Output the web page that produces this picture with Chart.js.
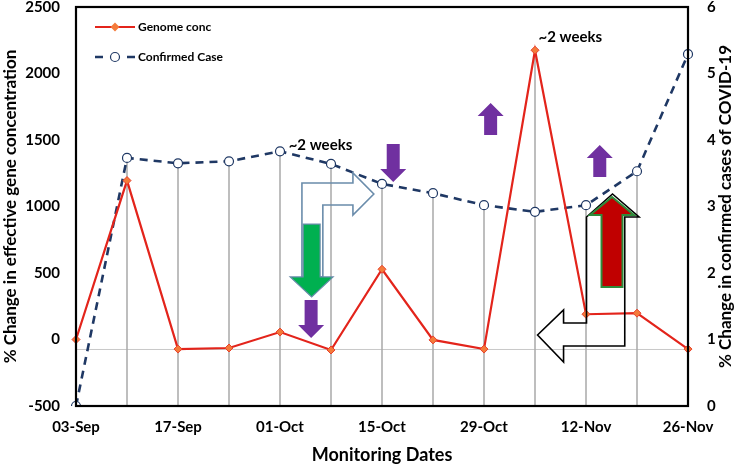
<!DOCTYPE html>
<html lang="en">
<head>
<meta charset="UTF-8" />
<title>Genome conc vs Confirmed Case</title>
<script src="https://cdn.jsdelivr.net/npm/chart.js"></script>
<style>
  html, body { margin: 0; padding: 0; background: #fff; }
</style>
</head>
<body>
<canvas id="chart" width="735" height="466"></canvas>
<script>
  const dates = ["03-Sep", "10-Sep", "17-Sep", "24-Sep", "01-Oct", "08-Oct", "15-Oct",
                 "22-Oct", "29-Oct", "05-Nov", "12-Nov", "19-Nov", "26-Nov"];
  const genomeConc = [0, 1195, -72, -64, 56, -79, 528, -3, -72, 2175, 190, 198, -72];
  const confirmedCase = [0, 3.73, 3.65, 3.68, 3.83, 3.64, 3.34, 3.2, 3.02, 2.92, 3.02, 3.53, 5.29];
  const leftRange = [-500, 2500, 500];   // min, max, step
  const rightRange = [0, 6, 1];
  const baseLineValue = -75;             // grey horizontal line

  // annotations, placed by [date index, left-axis value]
  const weekNotes = [[4.17, 1463], [9.07, 2275]];
  const purpleArrows = [ // x, tail, tip
    [6.22, 1470, 1184],
    [4.61, 297, 11],
    [8.13, 1538, 1778],
    [10.27, 1222, 1462]
  ];
  const greenArrow = [4.62, 868, 320];
  const redArrow = [10.51, 395, 1071];
  const blueBent = [[4.43, 470], [4.43, 1177], [5.43, 1177], [5.43, 1252], [5.84, 1094],
                    [5.43, 936], [5.43, 1011], [4.84, 1011], [4.84, 470]];
  const blackBent = [[10.52, 1094], [11.04, 921], [10.76, 921], [10.76, -49], [9.56, -49],
                     [9.56, -169], [9.05, 34], [9.56, 222], [9.56, 124], [10.01, 124], [10.01, 921]];

  const FONT = "Lato, 'Open Sans', sans-serif";

  function blockArrow(ctx, cx, y0, y1, sw, hw, hl) {
    const d = y1 > y0 ? 1 : -1;
    const yb = y1 - d * hl;
    ctx.beginPath();
    ctx.moveTo(cx - sw / 2, y0);
    ctx.lineTo(cx - sw / 2, yb);
    ctx.lineTo(cx - hw / 2, yb);
    ctx.lineTo(cx, y1);
    ctx.lineTo(cx + hw / 2, yb);
    ctx.lineTo(cx + sw / 2, yb);
    ctx.lineTo(cx + sw / 2, y0);
    ctx.closePath();
  }

  const dropLines = {
    id: 'dropLines',
    beforeDatasetsDraw(chart) {
      const { ctx, chartArea, scales } = chart;
      const m0 = chart.getDatasetMeta(0).data, m1 = chart.getDatasetMeta(1).data;
      ctx.save();
      // grey horizontal line
      const yb = scales.y.getPixelForValue(baseLineValue);
      ctx.strokeStyle = '#C8C8C8';
      ctx.lineWidth = 1;
      ctx.beginPath();
      ctx.moveTo(chartArea.left, yb);
      ctx.lineTo(chartArea.right, yb);
      ctx.stroke();
      ctx.strokeStyle = '#A8A8A8';
      ctx.lineWidth = 1.5;
      for (let i = 0; i < dates.length; i++) {
        const top = Math.min(m0[i].y, m1[i].y);
        if (top >= chartArea.bottom - 1) continue;
        ctx.beginPath();
        ctx.moveTo(m0[i].x, top);
        ctx.lineTo(m0[i].x, chartArea.bottom);
        ctx.stroke();
      }
      ctx.restore();
    }
  };

  const extras = {
    id: 'extras',
    afterDatasetsDraw(chart) {
      const { ctx, chartArea, scales } = chart;
      const X = v => scales.x.getPixelForValue(v);
      const Y = v => scales.y.getPixelForValue(v);
      ctx.save();

      // outline bent arrows
      const poly = (pts) => {
        ctx.beginPath();
        pts.forEach((p, i) => i ? ctx.lineTo(X(p[0]), Y(p[1])) : ctx.moveTo(X(p[0]), Y(p[1])));
        ctx.closePath();
      };
      ctx.lineJoin = 'miter';
      ctx.lineWidth = 1.6;
      ctx.strokeStyle = '#6A8CAB';
      poly(blueBent); ctx.stroke();
      ctx.strokeStyle = '#000';
      poly(blackBent); ctx.stroke();

      // green down arrow
      blockArrow(ctx, X(greenArrow[0]), Y(greenArrow[1]), Y(greenArrow[2]), 17, 43, 20);
      ctx.fillStyle = '#00B050';
      ctx.fill();
      ctx.strokeStyle = '#6A8CAB';
      ctx.lineWidth = 1.2;
      ctx.stroke();

      // red up arrow with green outline
      blockArrow(ctx, X(redArrow[0]), Y(redArrow[1]), Y(redArrow[2]), 21, 44, 18);
      ctx.fillStyle = '#C00000';
      ctx.fill();
      ctx.strokeStyle = '#2E8B3A';
      ctx.lineWidth = 2;
      ctx.stroke();

      // purple arrows
      ctx.fillStyle = '#7030A0';
      purpleArrows.forEach(a => {
        blockArrow(ctx, X(a[0]), Y(a[1]), Y(a[2]), 13, 26, 13);
        ctx.fill();
      });

      // ~2 weeks labels
      ctx.fillStyle = '#000';
      ctx.font = 'bold 15px ' + FONT;
      ctx.textAlign = 'left';
      ctx.textBaseline = 'middle';
      weekNotes.forEach(n => ctx.fillText('~2 weeks', X(n[0]), Y(n[1])));

      // frame
      ctx.strokeStyle = '#000';
      ctx.lineWidth = 2.2;
      ctx.strokeRect(chartArea.left, chartArea.top, chartArea.right - chartArea.left, chartArea.bottom - chartArea.top);
      ctx.restore();
    },
    afterDraw(chart) {
      const { ctx, chartArea } = chart;
      const ds = chart.data.datasets;
      ctx.save();
      // legend
      const lx = chartArea.left + 19, rows = [chartArea.top + 20, chartArea.top + 50];
      ctx.font = 'bold 12px ' + FONT;
      ctx.textBaseline = 'middle';
      ctx.textAlign = 'left';
      // genome
      ctx.strokeStyle = ds[0].borderColor;
      ctx.lineWidth = 2.2;
      ctx.beginPath(); ctx.moveTo(lx, rows[0]); ctx.lineTo(lx + 40, rows[0]); ctx.stroke();
      ctx.fillStyle = ds[0].pointBackgroundColor;
      ctx.beginPath();
      ctx.moveTo(lx + 20, rows[0] - 4.5); ctx.lineTo(lx + 24.5, rows[0]);
      ctx.lineTo(lx + 20, rows[0] + 4.5); ctx.lineTo(lx + 15.5, rows[0]); ctx.closePath();
      ctx.fill();
      ctx.fillStyle = '#000';
      ctx.fillText(ds[0].label, lx + 43, rows[0]);
      // confirmed
      ctx.strokeStyle = ds[1].borderColor;
      ctx.lineWidth = 2.6;
      ctx.beginPath(); ctx.moveTo(lx, rows[1]); ctx.lineTo(lx + 8, rows[1]);
      ctx.moveTo(lx + 32, rows[1]); ctx.lineTo(lx + 40, rows[1]); ctx.stroke();
      ctx.lineWidth = 1.2;
      ctx.fillStyle = '#fff';
      ctx.beginPath(); ctx.arc(lx + 20, rows[1], 4.5, 0, Math.PI * 2); ctx.fill(); ctx.stroke();
      ctx.fillStyle = '#000';
      ctx.fillText(ds[1].label, lx + 43, rows[1]);

      // right axis title, reading upwards
      ctx.font = 'bold 17px ' + FONT;
      ctx.textAlign = 'center';
      ctx.translate(726, (chartArea.top + chartArea.bottom) / 2);
      ctx.rotate(-Math.PI / 2);
      ctx.fillText('% Change in confirmed cases of COVID-19', 0, 0);
      ctx.restore();
    }
  };

  const tickFont = { family: FONT, size: 15, weight: 'bold' };

  new Chart(document.getElementById('chart'), {
    type: 'line',
    data: {
      labels: dates,
      datasets: [
        {
          label: 'Genome conc',
          data: genomeConc,
          yAxisID: 'y',
          borderColor: '#E3241B',
          borderWidth: 2.2,
          pointStyle: 'rectRot',
          pointRadius: 4,
          pointBackgroundColor: '#F47A3A',
          pointBorderColor: '#E8412B',
          pointBorderWidth: 1,
          tension: 0
        },
        {
          label: 'Confirmed Case',
          data: confirmedCase,
          yAxisID: 'y2',
          borderColor: '#1F3864',
          borderWidth: 2.6,
          borderDash: [8, 6],
          pointStyle: 'circle',
          pointRadius: 4.5,
          pointBackgroundColor: '#fff',
          pointBorderColor: '#1F3864',
          pointBorderWidth: 1.2,
          tension: 0
        }
      ]
    },
    options: {
      responsive: false,
      animation: false,
      layout: { padding: { top: 7, left: 0, right: 0, bottom: 0 } },
      plugins: { legend: { display: false }, tooltip: { enabled: false } },
      scales: {
        x: {
          grid: { display: false, drawTicks: false },
          border: { display: false },
          ticks: {
            autoSkip: false, maxRotation: 0, padding: 12, color: '#000', font: tickFont,
            callback: (v, i) => i % 2 === 0 ? dates[i] : ''
          },
          title: { display: true, text: 'Monitoring Dates', color: '#000', padding: 0,
                   font: { family: FONT, size: 18, weight: 'bold' } },
          afterFit: s => { s.height = 60; s.paddingLeft = 0; s.paddingRight = 0; }
        },
        y: {
          position: 'left',
          min: leftRange[0], max: leftRange[1],
          grid: { display: false, drawTicks: false },
          border: { display: false },
          ticks: { stepSize: leftRange[2], padding: 16, color: '#000', font: tickFont,
                   callback: v => String(v) },
          title: { display: true, text: '% Change in effective gene concentration', color: '#000',
                   padding: 0, font: { family: FONT, size: 17, weight: 'bold' } },
          afterFit: s => { s.width = 76; s.paddingTop = 0; s.paddingBottom = 0; }
        },
        y2: {
          position: 'right',
          min: rightRange[0], max: rightRange[1],
          grid: { display: false, drawTicks: false },
          border: { display: false },
          ticks: { stepSize: rightRange[2], padding: 19, color: '#000', font: tickFont },
          afterFit: s => { s.width = 47; s.paddingTop = 0; s.paddingBottom = 0; }
        }
      }
    },
    plugins: [dropLines, extras]
  });
</script>
</body>
</html>
